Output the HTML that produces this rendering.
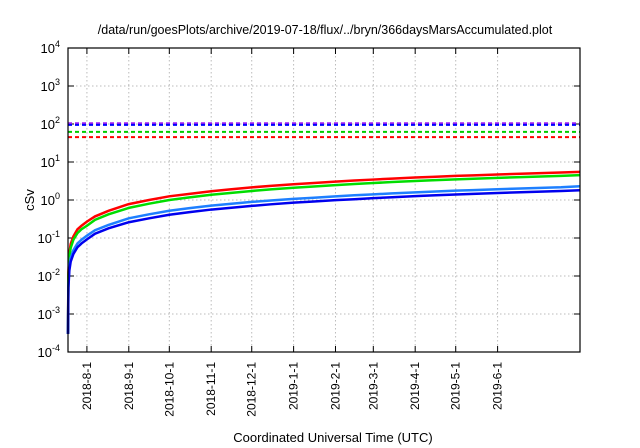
<!DOCTYPE html>
<html><head><meta charset="utf-8"><style>
body{margin:0;background:#fff;}
svg{display:block;font-family:"Liberation Sans",sans-serif;}
</style></head><body>
<svg id="c" width="640" height="448"></svg>
<script>
const days=[0,0.3,1,2,4,7,10,14,20,30,45,60,75,90,106,120,136,150,167,182,198,212,226,240,257,270,287,300,318,335,350,365,379];
const red=[0.0003,0.012,0.04,0.07,0.11,0.17,0.21,0.27,0.37,0.52,0.78,1.0,1.25,1.45,1.7,1.9,2.15,2.35,2.6,2.8,3.05,3.25,3.45,3.65,3.9,4.05,4.3,4.45,4.7,4.9,5.1,5.3,5.5];
const green=[0.0003,0.01,0.032,0.055,0.09,0.135,0.17,0.21,0.3,0.42,0.62,0.8,1.0,1.17,1.37,1.53,1.73,1.9,2.1,2.27,2.47,2.63,2.8,2.97,3.17,3.3,3.5,3.63,3.83,4.0,4.15,4.32,4.5];
const lblue=[0.0003,0.006,0.018,0.03,0.048,0.072,0.09,0.115,0.16,0.22,0.33,0.42,0.52,0.61,0.71,0.79,0.89,0.97,1.07,1.15,1.25,1.33,1.41,1.49,1.59,1.66,1.76,1.82,1.92,2.0,2.08,2.16,2.3];
const dblue=[0.0003,0.005,0.014,0.024,0.038,0.057,0.072,0.092,0.13,0.18,0.26,0.33,0.41,0.48,0.56,0.62,0.7,0.77,0.85,0.91,0.99,1.05,1.12,1.18,1.26,1.32,1.4,1.45,1.53,1.6,1.66,1.72,1.8];
const limits=[105,95,62,45];
const limitColors=["#a020f0","#0000ff","#00cc00","#ff0000"];
const xTickLabels=["2018-8-1","2018-9-1","2018-10-1","2018-11-1","2018-12-1","2019-1-1","2019-2-1","2019-3-1","2019-4-1","2019-5-1","2019-6-1"];
const xTickDays=[14,45,75,106,136,167,198,226,257,287,318];
const yExp=[-4,-3,-2,-1,0,1,2,3,4];
const L=68,R=580,T=48,B=352;
const X=d=>L+(d/379)*(R-L);
const Y=v=>B-(Math.log10(v)+4)/8*(B-T);
const svg=document.getElementById('c');const NS="http://www.w3.org/2000/svg";
function mk(t,a,p){const e=document.createElementNS(NS,t);for(const k in a)e.setAttribute(k,a[k]);(p||svg).appendChild(e);return e;}
const title=mk('text',{x:325,y:34,'text-anchor':'middle','font-size':12.5,fill:'#000'});title.textContent="/data/run/goesPlots/archive/2019-07-18/flux/../bryn/366daysMarsAccumulated.plot";


yExp.forEach(e=>{const y=Y(Math.pow(10,e));
 if(e>-4&&e<4){const g=mk('line',{x1:L,x2:R,y1:y,y2:y,stroke:'#bbb','stroke-dasharray':'1.5,2.5','stroke-width':1});}
 mk('line',{x1:L,x2:L+6,y1:y,y2:y,stroke:'#000'});mk('line',{x1:R-6,x2:R,y1:y,y2:y,stroke:'#000'});
 const t=mk('text',{x:L-8,y:y+5,'text-anchor':'end','font-size':13,fill:'#000'});t.textContent='10';
 const s=mk('tspan',{dy:-6,'font-size':9},t);s.textContent=String(e);
 });
xTickDays.forEach((d,i)=>{const x=X(d);
 const g=mk('line',{x1:x,x2:x,y1:T,y2:B,stroke:'#bbb','stroke-dasharray':'1.5,2.5'});
 mk('line',{x1:x,x2:x,y1:B-6,y2:B,stroke:'#000'});mk('line',{x1:x,x2:x,y1:T,y2:T+6,stroke:'#000'});
 const t=mk('text',{x:0,y:0,'text-anchor':'end','font-size':12,fill:'#000',transform:`translate(${x+4},${B+10}) rotate(-90)`});t.textContent=xTickLabels[i];
 });
limits.forEach((v,i)=>{const l=mk('line',{x1:L,x2:R,y1:Y(v),y2:Y(v),stroke:limitColors[i],'stroke-width':2,'stroke-dasharray':'4,3'});
 });
[[red,'#ff0000'],[green,'#00dd00'],[lblue,'#1e7fff'],[dblue,'#0000ee']].forEach(([s,c])=>{
 const p=mk('polyline',{points:s.map((v,i)=>X(days[i])+','+Y(v)).join(' '),fill:'none',stroke:c,'stroke-width':2.5});
 });
const f=mk('rect',{x:L,y:T,width:R-L,height:B-T,fill:'none',stroke:'#000','stroke-width':1.2});
const yl=mk('text',{x:0,y:0,'text-anchor':'middle','font-size':13,transform:'translate(34,200) rotate(-90)'});yl.textContent='cSv';

const xl=mk('text',{x:333,y:442,'text-anchor':'middle','font-size':13});xl.textContent='Coordinated Universal Time (UTC)';

</script>
</body></html>
